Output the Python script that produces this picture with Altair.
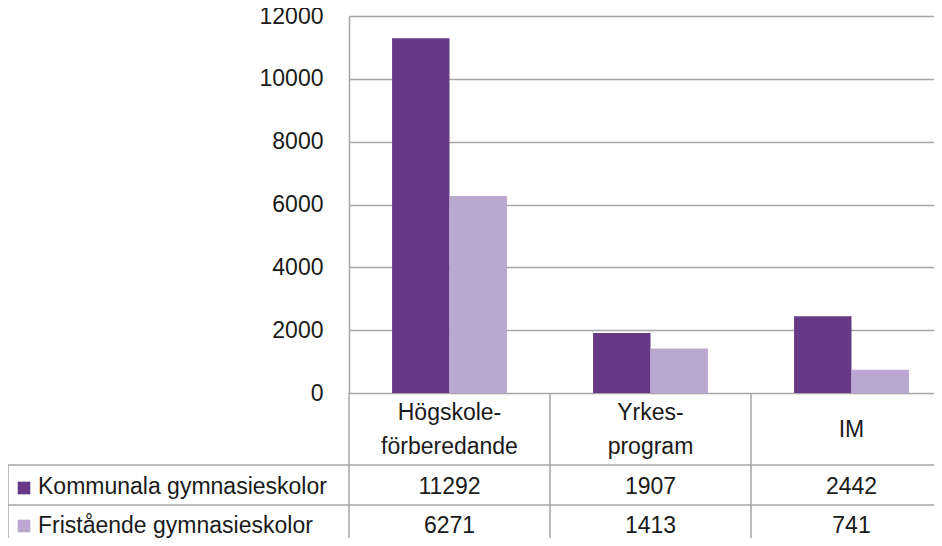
import altair as alt
import pandas as pd

categories = ["Högskoleförberedande", "Yrkesprogram", "IM"]
category_labels = ["Högskole-\nförberedande", "Yrkes-\nprogram", "IM"]
series = ["Kommunala gymnasieskolor", "Fristående gymnasieskolor"]
kommunala = [11292, 1907, 2442]
fristaende = [6271, 1413, 741]
colors = ["#673886", "#BBA8D0"]
y_ticks = [0, 2000, 4000, 6000, 8000, 10000, 12000]

FONT = "Liberation Sans"
FS = 23
TXT = "#1a1a1a"
LINE = "#A6A6A6"

W = 603
H = 377

rows = []
for s, vals in zip(series, [kommunala, fristaende]):
    for c, v in zip(categories, vals):
        rows.append({"category": c, "series": s, "value": v})
df = pd.DataFrame(rows)
cat_df = pd.DataFrame({"category": categories, "label": category_labels,
                       "lines": [1 if "\n" not in l else 2 for l in category_labels]})
ser_df = pd.DataFrame({"series": series})

xscale = alt.Scale(domain=categories, paddingInner=0, paddingOuter=0)
cscale = alt.Scale(domain=series, range=colors)
X = alt.X("category:N", scale=xscale, axis=None, sort=categories)

bars = alt.Chart(df).mark_bar().encode(
    x=X,
    xOffset=alt.XOffset("series:N", sort=series,
                        scale=alt.Scale(domain=series, paddingOuter=0.75, paddingInner=0)),
    y=alt.Y("value:Q", scale=alt.Scale(domain=[0, 12000], nice=False),
            axis=alt.Axis(values=y_ticks, title=None, ticks=False, labelPadding=26,
                          format="d",
                          labelFont=FONT, labelFontSize=FS, labelColor=TXT,
                          domainColor=LINE, domainWidth=1.5,
                          gridColor=LINE, gridWidth=1.5)),
    color=alt.Color("series:N", scale=cscale, legend=None),
)

# category header row
cat_two = alt.Chart(cat_df[cat_df.lines == 2]).mark_text(
    font=FONT, fontSize=FS, color=TXT, lineBreak="\n", lineHeight=34, baseline="middle"
).encode(x=X, y=alt.value(397), text="label:N")
cat_one = alt.Chart(cat_df[cat_df.lines == 1]).mark_text(
    font=FONT, fontSize=FS, color=TXT, baseline="middle"
).encode(x=X, y=alt.value(414), text="label:N")

# value rows
k_df = df[df.series == series[0]]
f_df = df[df.series == series[1]]
k_text = alt.Chart(k_df).mark_text(font=FONT, fontSize=FS, color=TXT, baseline="middle").encode(
    x=X, y=alt.value(471), text=alt.Text("value:Q", format="d"))
f_text = alt.Chart(f_df).mark_text(font=FONT, fontSize=FS, color=TXT, baseline="middle").encode(
    x=X, y=alt.value(510), text=alt.Text("value:Q", format="d"))

# legend keys in the table
k_sq = alt.Chart(ser_df[ser_df.series == series[0]]).mark_square(size=160, opacity=1).encode(
    x=alt.value(-325), y=alt.value(472), color=alt.Color("series:N", scale=cscale, legend=None))
f_sq = alt.Chart(ser_df[ser_df.series == series[1]]).mark_square(size=160, opacity=1).encode(
    x=alt.value(-325), y=alt.value(510), color=alt.Color("series:N", scale=cscale, legend=None))
k_lab = alt.Chart(ser_df[ser_df.series == series[0]]).mark_text(
    font=FONT, fontSize=FS, color=TXT, align="left", baseline="middle").encode(
    x=alt.value(-311), y=alt.value(471), text="series:N")
f_lab = alt.Chart(ser_df[ser_df.series == series[1]]).mark_text(
    font=FONT, fontSize=FS, color=TXT, align="left", baseline="middle").encode(
    x=alt.value(-311), y=alt.value(510), text="series:N")

# table grid lines
vlines = alt.Chart(cat_df).mark_rule(color=LINE, strokeWidth=1.5).encode(
    x=alt.X("category:N", scale=xscale, axis=None, sort=categories, bandPosition=0),
    y=alt.value(H), y2=alt.value(540))
one = pd.DataFrame({"k": [0]})
left_border = alt.Chart(one).mark_rule(color=LINE, strokeWidth=1.5).encode(
    x=alt.value(-341), y=alt.value(449), y2=alt.value(540))
right_border = alt.Chart(one).mark_rule(color=LINE, strokeWidth=1.5).encode(
    x=alt.value(W), y=alt.value(H), y2=alt.value(540))
h1 = alt.Chart(one).mark_rule(color=LINE, strokeWidth=1.5).encode(
    x=alt.value(-341), x2=alt.value(W), y=alt.value(449))
h2 = alt.Chart(one).mark_rule(color=LINE, strokeWidth=1.5).encode(
    x=alt.value(-341), x2=alt.value(W), y=alt.value(489))

chart = alt.layer(
    bars, vlines, left_border, right_border, h1, h2,
    cat_two, cat_one, k_text, f_text, k_sq, f_sq, k_lab, f_lab
).properties(
    width=W, height=H,
    autosize=alt.AutoSizeParams(type="none"),
    padding={"left": 341, "top": 8, "right": -18, "bottom": 145},
).configure_view(stroke=None).configure(background="white")

chart.save("out.html", embed_options={"renderer": "svg", "actions": False})
